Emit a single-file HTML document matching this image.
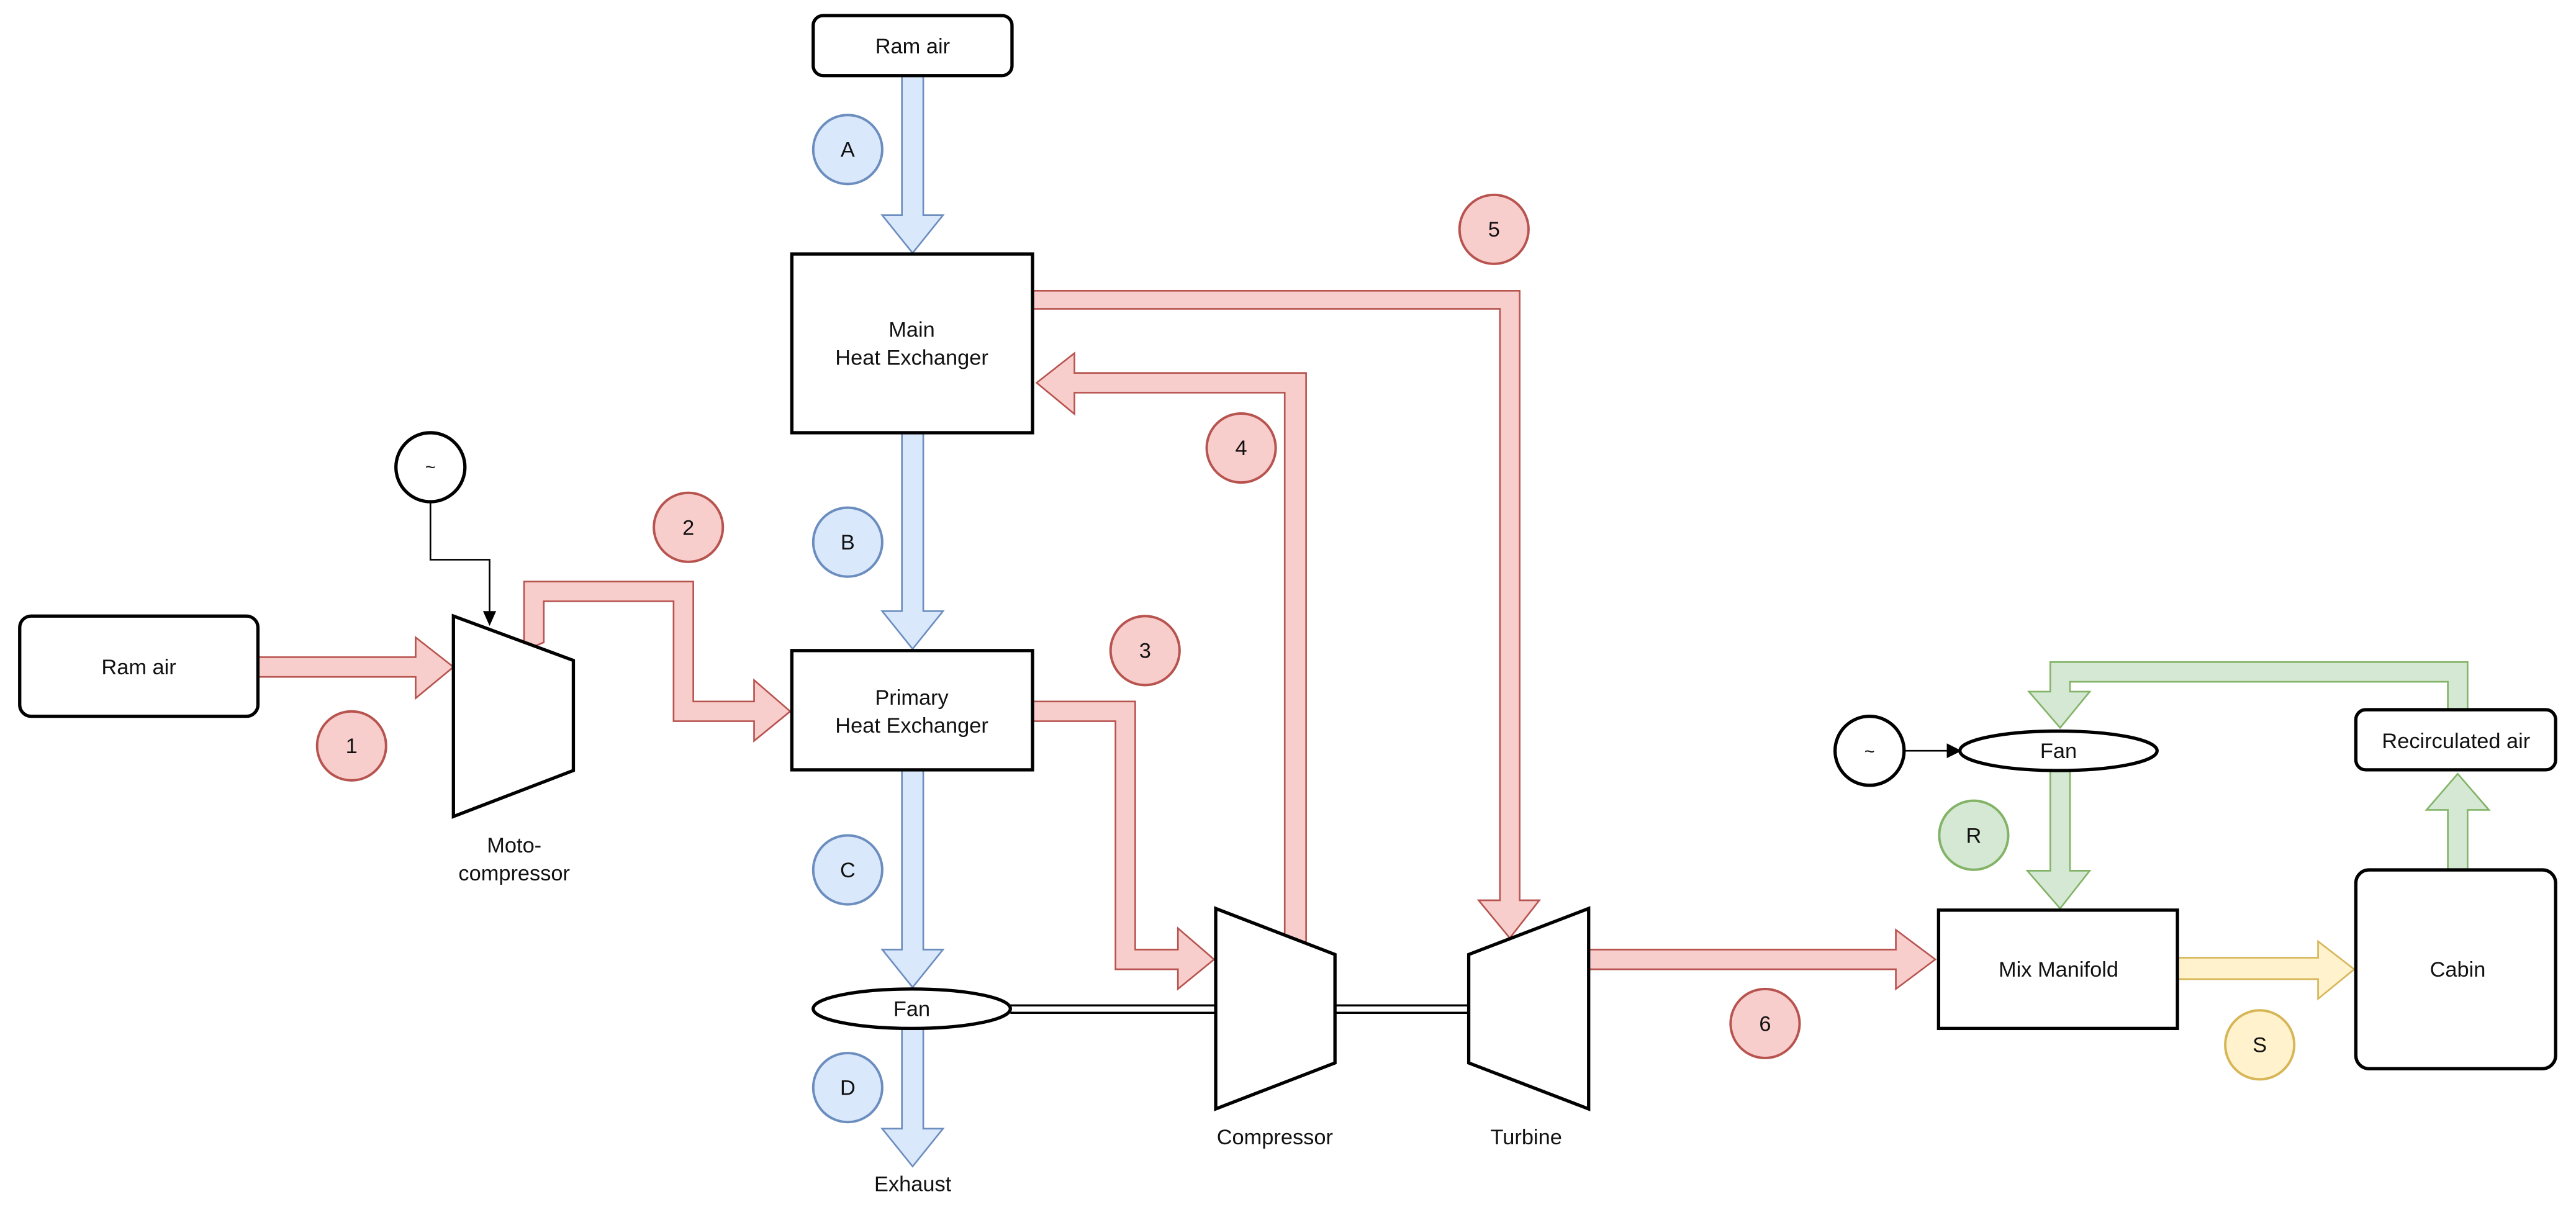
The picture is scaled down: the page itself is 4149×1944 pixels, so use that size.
<!DOCTYPE html>
<html><head><meta charset="utf-8"><style>html,body{margin:0;padding:0;background:#fff}svg{display:block}</style></head>
<body>
<svg xmlns="http://www.w3.org/2000/svg" width="4149" height="1944" viewBox="0 0 1568 734.7" preserveAspectRatio="none" font-family="Liberation Sans, sans-serif" font-size="13" text-anchor="middle">
<rect width="1568" height="734.7" fill="#fff"/>
<!-- blue arrows -->
<g fill="#dae8fc" stroke="#6c8ebf" stroke-width="1">
<polygon points="549,46 562,46 562,131 574,131 555.5,154 537,131 549,131"/>
<polygon points="549,263 562,263 562,372 574,372 555.5,395 537,372 549,372"/>
<polygon points="549,469 562,469 562,578 574,578 555.5,601 537,578 549,578"/>
<polygon points="549,626 562,626 562,687 574,687 555.5,710 537,687 549,687"/>
</g>
<!-- red arrows -->
<g fill="#f8cecc" stroke="#b85450" stroke-width="1">
<polygon points="157,400 253,400 253,388 276,406 253,425 253,412 157,412"/>
<polygon points="319,396 319,354 422,354 422,427 459,427 459,414 481,433 459,451 459,439 410,439 410,366 331,366 331,391"/>
<polygon points="628,427 691,427 691,578 717,578 717,565 739,584 717,602 717,590 679,590 679,439 628,439"/>
<polygon points="795,575 795,227 654,227 654,215 631,233 654,252 654,239 782,239 782,570"/>
<polygon points="628,177 925,177 925,548 937,548 919,571 900,548 913,548 913,188 628,188"/>
<polygon points="967,578 1154,578 1154,566 1178,584 1154,602 1154,590 967,590"/>
</g>
<polygon fill="#fff2cc" stroke="#d6b656" stroke-width="1" points="1325,583 1411,583 1411,573 1433,590 1411,608 1411,596 1325,596"/>
<g fill="#d5e8d4" stroke="#82b366" stroke-width="1">
<polygon points="1490,530 1490,493 1477,493 1496,471 1515,493 1502,493 1502,530"/>
<polygon points="1490,432 1490,415 1260,415 1260,421 1272,421 1254,443 1235,421 1248,421 1248,403 1502,403 1502,432"/>
<polygon points="1248,469 1260,469 1260,530 1272,530 1254,553 1234,530 1248,530"/>
</g>
<!-- shafts -->
<g stroke="#000" stroke-width="1.3">
<line x1="615" y1="612" x2="740" y2="612"/><line x1="615" y1="616.5" x2="740" y2="616.5"/>
<line x1="812" y1="612" x2="894" y2="612"/><line x1="812" y1="616.5" x2="894" y2="616.5"/>
</g>
<!-- boxes -->
<g fill="#fff" stroke="#000" stroke-width="2">
<rect x="495" y="9.5" width="121" height="36.5" rx="6"/>
<rect x="12" y="375" width="145" height="61" rx="7"/>
<rect x="482" y="154.6" width="146.5" height="108.8"/>
<rect x="482" y="396" width="146.5" height="72.6"/>
<rect x="1180" y="554" width="145.4" height="72"/>
<rect x="1434" y="529.5" width="121.6" height="121" rx="8"/>
<rect x="1434" y="432" width="121.6" height="36.6" rx="6"/>
<polygon points="276,375 349,402 349,469 276,497"/>
<polygon points="740,553 812.6,581 812.6,647 740,675"/>
<polygon points="894,581 967,553 967,675 894,647"/>
<ellipse cx="555" cy="614" rx="60" ry="12"/>
<ellipse cx="1253" cy="457" rx="60" ry="12"/>
<circle cx="262" cy="284.4" r="21"/>
<circle cx="1138" cy="457" r="21"/>
</g>
<!-- control lines -->
<polyline points="262,305.4 262,340.7 298,340.7 298,374" fill="none" stroke="#000" stroke-width="1"/>
<polygon points="294,372 302,372 298,381" fill="#000"/>
<line x1="1159" y1="457" x2="1186" y2="457" stroke="#000" stroke-width="1"/>
<polygon points="1185,452.5 1185,461.5 1194,457" fill="#000"/>
<!-- numbered circles -->
<g stroke-width="1.5">
<g fill="#f8cecc" stroke="#b85450">
<circle cx="214" cy="454" r="21"/><circle cx="419" cy="321" r="21"/><circle cx="697" cy="396" r="21"/>
<circle cx="755.5" cy="272.7" r="21"/><circle cx="909.4" cy="139.6" r="21"/><circle cx="1074.4" cy="623" r="21"/>
</g>
<g fill="#dae8fc" stroke="#6c8ebf">
<circle cx="516" cy="91" r="21"/><circle cx="516" cy="330" r="21"/><circle cx="516" cy="529.5" r="21"/><circle cx="516" cy="662" r="21"/>
</g>
<circle cx="1201.4" cy="508.4" r="21" fill="#d5e8d4" stroke="#82b366"/>
<circle cx="1375.5" cy="636" r="21" fill="#fff2cc" stroke="#d6b656"/>
</g>
<!-- text -->
<g fill="#111">
<text x="555.5" y="32.5">Ram air</text>
<text x="84.5" y="410.5">Ram air</text>
<text x="555" y="205">Main</text>
<text x="555" y="222">Heat Exchanger</text>
<text x="555" y="429">Primary</text>
<text x="555" y="446">Heat Exchanger</text>
<text x="555" y="618.5">Fan</text>
<text x="1253" y="461.5">Fan</text>
<text x="555.6" y="725">Exhaust</text>
<text x="313" y="519">Moto-</text>
<text x="313" y="536">compressor</text>
<text x="776" y="696.5">Compressor</text>
<text x="929" y="696.5">Turbine</text>
<text x="1253" y="594.5">Mix Manifold</text>
<text x="1496" y="594.5">Cabin</text>
<text x="1495" y="455.5">Recirculated air</text>
<text x="262" y="288" font-size="11">~</text>
<text x="1138" y="461" font-size="11">~</text>
<text x="214" y="458.5">1</text><text x="419" y="325.5">2</text><text x="697" y="400.5">3</text>
<text x="755.5" y="277">4</text><text x="909.4" y="144">5</text><text x="1074.4" y="627.5">6</text>
<text x="516" y="95.5">A</text><text x="516" y="334.5">B</text><text x="516" y="534">C</text><text x="516" y="666.5">D</text>
<text x="1201.4" y="513">R</text><text x="1375.5" y="640.5">S</text>
</g>
</svg>
</body></html>
